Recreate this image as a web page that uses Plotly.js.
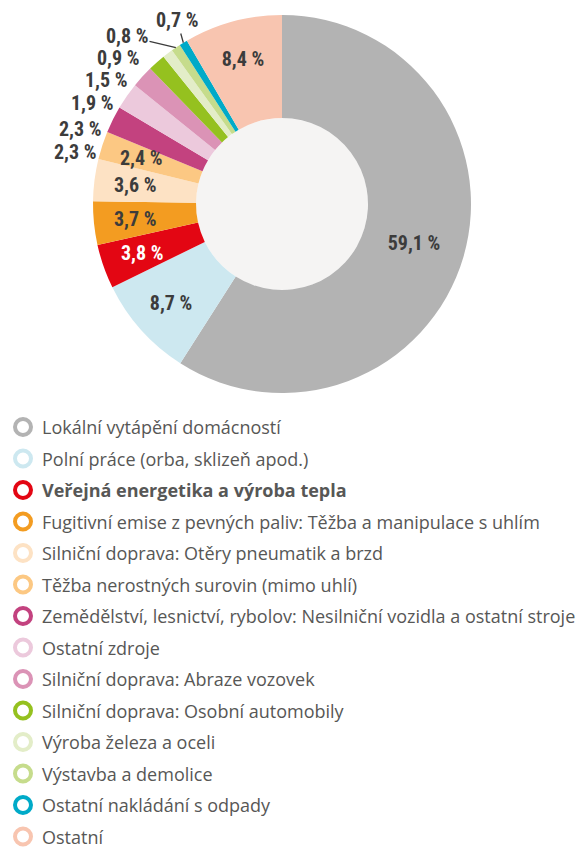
<!DOCTYPE html>
<html><head><meta charset="utf-8">
<script src="https://cdn.plot.ly/plotly-3.0.1.min.js"></script>
<style>html,body{margin:0;padding:0;background:#fff}</style>
</head><body><div id="chart" style="width:576px;height:848px"></div>
<script>
const labels = [
  "Lokální vytápění domácností",
  "Polní práce (orba, sklizeň apod.)",
  "Veřejná energetika a výroba tepla",
  "Fugitivní emise z pevných paliv: Těžba a manipulace s uhlím",
  "Silniční doprava: Otěry pneumatik a brzd",
  "Těžba nerostných surovin (mimo uhlí)",
  "Zemědělství, lesnictví, rybolov: Nesilniční vozidla a ostatní stroje",
  "Ostatní zdroje",
  "Silniční doprava: Abraze vozovek",
  "Silniční doprava: Osobní automobily",
  "Výroba železa a oceli",
  "Výstavba a demolice",
  "Ostatní nakládání s odpady",
  "Ostatní"
];
const values = [59.1, 8.7, 3.8, 3.7, 3.6, 2.4, 2.3, 2.3, 1.9, 1.5, 0.9, 0.8, 0.7, 8.4];
const colors = ["#b3b3b3","#cde8f0","#e30613","#f39c21","#fde2c4","#fcc883","#c3427f","#ecc9dc","#db93b6","#95c11f","#e3edc8","#c6dc8c","#00aac8","#f8c5b0"];
const boldIndex = 2;

const W = 576, H = 848;
const cx = 282, cy = 204, R = 189, r = 86;
const labelFont = "Roboto Condensed, DejaVu Sans Condensed, sans-serif";
const darkText = "#3c3c3c";

// big slices: library's own inside labels; narrow ring slices: labels placed by hand
const plotlyInside = [0, 1, 13];
const ringInside = [2, 3, 4, 5];
const outsideIdx = [6, 7, 8, 9, 10, 11, 12];
const textPositions = values.map((v, i) => plotlyInside.includes(i) ? "inside" : "none");
const textColor = i => i === 2 ? "#ffffff" : darkText;

const fmt = v => v.toFixed(1).replace(".", ",") + " %";

const trace = {
  type: "pie",
  labels: labels,
  values: values,
  sort: false,
  direction: "clockwise",
  rotation: 0,
  hole: r / R,
  marker: {colors: colors, line: {width: 0}},
  texttemplate: "%{value:.1f} %",
  textposition: textPositions,
  insidetextorientation: "horizontal",
  textfont: {family: labelFont, size: 20, color: darkText, weight: "bold"},
  domain: {x: [(cx - R) / W, (cx + R) / W], y: [1 - (cy + R) / H, 1 - (cy - R) / H]},
  showlegend: false,
  hoverinfo: "none",
  automargin: false
};

const shapes = [{
  type: "circle", xref: "paper", yref: "paper", layer: "below",
  x0: (cx - r) / W, x1: (cx + r) / W, y0: 1 - (cy + r) / H, y1: 1 - (cy - r) / H,
  fillcolor: "#f5f4f3", line: {width: 0}
}];
const annotations = [];

const total = values.reduce((a, b) => a + b, 0);
const cum = [];
values.reduce((acc, v, i) => { cum[i] = acc; return acc + v; }, 0);
const midAngle = i => 2 * Math.PI * (cum[i] + values[i] / 2) / total;

// labels inside the narrow slices on the left, at the slice mid-angle
ringInside.forEach(i => {
  const a = midAngle(i), rr = 148;
  const px = cx + rr * Math.sin(a), py = cy - rr * Math.cos(a);
  annotations.push({
    xref: "paper", yref: "paper", x: px / W, y: 1 - py / H,
    xanchor: "center", yanchor: "middle", showarrow: false,
    text: "<b>" + fmt(values[i]) + "</b>",
    font: {family: labelFont, size: 20, color: textColor(i)}
  });
});

// outside labels, stacked along the upper-left edge of the ring
const outsidePos = {
  6: [75, 152], 7: [80, 129], 8: [92, 103], 9: [106, 80],
  10: [118, 58], 11: [127, 36], 12: [177, 20]
};
const withLeader = [11, 12];
outsideIdx.forEach(i => {
  const [lx, ly] = outsidePos[i];
  if (withLeader.includes(i)) {
    const a = midAngle(i);
    const px = cx + R * Math.sin(a), py = cy - R * Math.cos(a);
    annotations.push({
      xref: "paper", yref: "paper", x: px / W, y: 1 - py / H,
      ax: lx - px, ay: ly - py, showarrow: true, arrowhead: 0,
      arrowwidth: 1.3, arrowcolor: darkText, standoff: 0,
      text: "<b>" + fmt(values[i]) + "</b>",
      font: {family: labelFont, size: 20, color: darkText}
    });
  } else {
    annotations.push({
      xref: "paper", yref: "paper", x: lx / W, y: 1 - ly / H,
      xanchor: "center", yanchor: "middle", showarrow: false,
      text: "<b>" + fmt(values[i]) + "</b>",
      font: {family: labelFont, size: 20, color: darkText}
    });
  }
});

// legend: ring markers + labels
const legY0 = 427, legStep = 31.5, ringX = 23, ringR = 8;
labels.forEach((lab, i) => {
  const y = legY0 + i * legStep;
  shapes.push({
    type: "circle", xref: "paper", yref: "paper",
    x0: (ringX - ringR) / W, x1: (ringX + ringR) / W,
    y0: 1 - (y + ringR) / H, y1: 1 - (y - ringR) / H,
    fillcolor: "rgba(0,0,0,0)", line: {color: colors[i], width: 4}
  });
  annotations.push({
    xref: "paper", yref: "paper", x: 40 / W, y: 1 - y / H,
    xanchor: "left", yanchor: "middle", showarrow: false,
    text: i === boldIndex ? "<b>" + lab + "</b>" : lab,
    font: {family: "Open Sans, sans-serif", size: 18, color: "#575756"}
  });
});

const layout = {
  width: W, height: H,
  margin: {l: 0, r: 0, t: 0, b: 0},
  paper_bgcolor: "#ffffff",
  separators: ", ",
  uniformtext: {mode: "show", minsize: 20},
  shapes: shapes,
  annotations: annotations
};

Plotly.newPlot("chart", [trace], layout, {displayModeBar: false, staticPlot: true});
</script></body></html>
